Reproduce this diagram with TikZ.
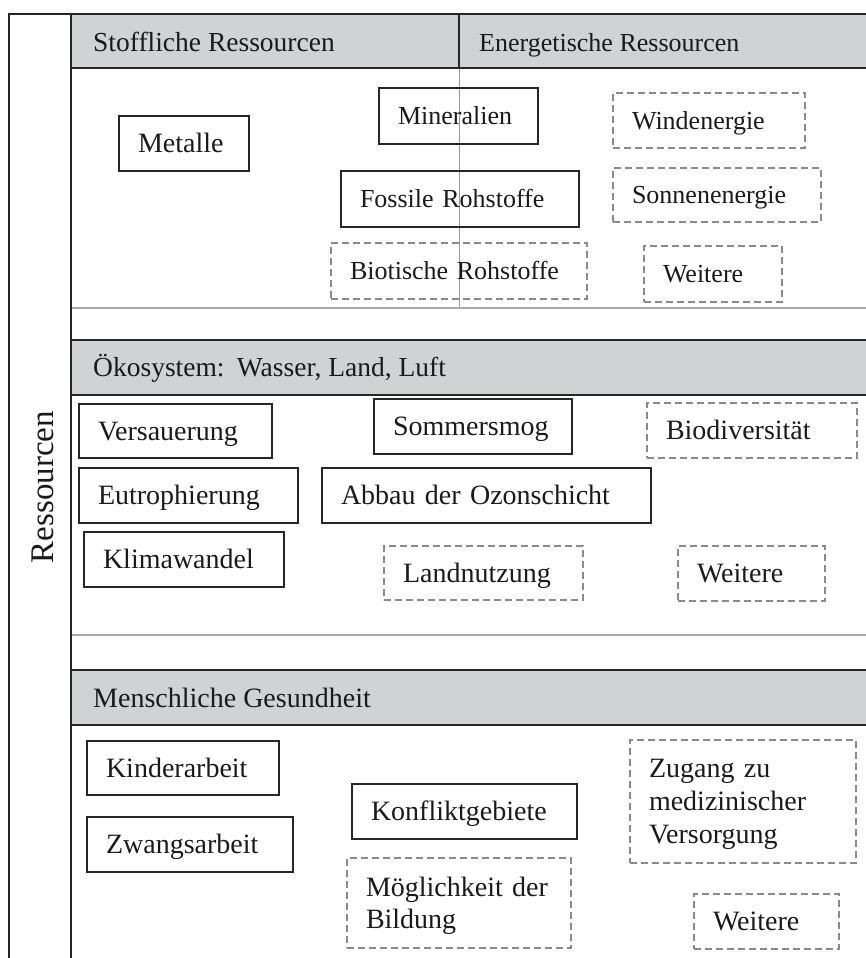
\documentclass[tikz,border=0pt]{standalone}
\usepackage{fontspec}
\setmainfont{Liberation Serif}
\definecolor{inkc}{HTML}{1A1A1A}
\definecolor{rulec}{HTML}{262626}
\definecolor{hdrfill}{HTML}{D0D2D4}
\definecolor{sepc}{HTML}{A8A8A8}
\definecolor{dashc}{HTML}{8A8A8A}
\definecolor{midc}{HTML}{9A9A9A}
\begin{document}
\hyphenpenalty=10000
\exhyphenpenalty=10000
\begin{tikzpicture}[x=1pt,y=-1pt,
  bigtxt/.style={font=\fontsize{28}{33}\selectfont, text height=25.2pt, text depth=6.7pt},
  smalltxt/.style={font=\fontsize{26}{31}\selectfont, text height=23.4pt, text depth=6.24pt},
  boxtext/.style={rectangle, text=inkc, inner xsep=19pt, inner ysep=0pt, align=left},
  solidbox/.style={boxtext, draw=rulec, line width=1.5pt},
  dashbox/.style={boxtext, draw=dashc, line width=1.2pt, dash pattern=on 7pt off 4pt},
  frameline/.style={draw=rulec, line width=1.7pt},
  sepline/.style={draw=sepc, line width=1.4pt},
  headfill/.style={fill=hdrfill},
  headtext/.style={text=inkc, inner sep=0pt, anchor=base west},
]
\useasboundingbox (0,0) rectangle (866,958);

% header bands
\fill[headfill] (71,14) rectangle (866,68);
\fill[headfill] (71,340) rectangle (866,395);
\fill[headfill] (71,670) rectangle (866,725);

% thin separators
\draw[draw=midc, line width=1pt] (459,68) -- (459,308);
\draw[sepline] (71,308) -- (866,308);
\draw[sepline] (71,635) -- (866,635);

% frame and header rules
\draw[frameline] (9,958) -- (9,14) -- (866,14);
\draw[frameline] (71,14) -- (71,958);
\draw[frameline] (71,68) -- (866,68);
\draw[frameline] (459,14) -- (459,68);
\draw[frameline] (71,340) -- (866,340);
\draw[frameline] (71,395) -- (866,395);
\draw[frameline] (71,670) -- (866,670);
\draw[frameline] (71,725) -- (866,725);

% side label
\node[text=inkc, font=\fontsize{33}{40}\selectfont, rotate=90, anchor=base, inner sep=0pt] (ress) at (53,487) {Ressourcen};

% header texts
\node[headtext, font=\fontsize{27.5}{33}\selectfont] (hstoff) at (93,51.5) {Stoffliche Ressourcen};
\node[headtext, font=\fontsize{26}{31}\selectfont] (henergie) at (479,51.5) {Energetische Ressourcen};
\node[headtext, font=\fontsize{27.5}{33}\selectfont] (hoeko) at (93,376.5) {Ökosystem:\hspace{0.45em}Wasser, Land, Luft};
\node[headtext, font=\fontsize{28}{33}\selectfont] (hmensch) at (93,707) {Menschliche Gesundheit};

% resources
\node[solidbox, bigtxt, text width=92pt, minimum height=55pt] (metalle) at (184,143.5) {Metalle};
\node[solidbox, smalltxt, text width=121pt, minimum height=56pt] (mineralien) at (458.5,116) {Mineralien};
\node[solidbox, smalltxt, text width=200pt, minimum height=56pt] (fossil) at (460,199) {Fossile Rohstoffe};
\node[dashbox, smalltxt, text width=218pt, minimum height=56pt] (biotisch) at (459,271) {Biotische Rohstoffe};
\node[dashbox, smalltxt, text width=154pt, minimum height=55pt] (wind) at (709,120.5) {Windenergie};
\node[dashbox, smalltxt, text width=170pt, minimum height=54pt] (sonne) at (717,195) {Sonnenenergie};
\node[dashbox, smalltxt, text width=100pt, minimum height=56pt] (weiterA) at (713,274) {Weitere};

% ecosystem
\node[solidbox, bigtxt, text width=155pt, minimum height=54pt] (versauer) at (175.5,431) {Versauerung};
\node[solidbox, bigtxt, text width=160pt, minimum height=55pt] (smog) at (473,426.5) {Sommersmog};
\node[dashbox, bigtxt, text width=172pt, minimum height=55pt] (biodiv) at (752,430.5) {Biodiversität};
\node[solidbox, bigtxt, text width=181pt, minimum height=55pt] (eutroph) at (188.5,495.5) {Eutrophierung};
\node[solidbox, bigtxt, text width=291pt, minimum height=55pt] (ozon) at (486.5,495.5) {Abbau der Ozonschicht};
\node[solidbox, bigtxt, text width=162pt, minimum height=55pt] (klima) at (184,559.5) {Klimawandel};
\node[dashbox, bigtxt, text width=161pt, minimum height=54pt] (land) at (483.5,573) {Landnutzung};
\node[dashbox, bigtxt, text width=109pt, minimum height=55pt] (weiterB) at (751.5,573.5) {Weitere};

% human health
\node[solidbox, bigtxt, text width=154pt, minimum height=54pt] (kinder) at (183,768) {Kinderarbeit};
\node[solidbox, bigtxt, text width=168pt, minimum height=55pt] (zwang) at (190,844.5) {Zwangsarbeit};
\node[solidbox, bigtxt, text width=187pt, minimum height=55pt] (konflikt) at (464.5,811.5) {Konfliktgebiete};
\node[dashbox, font=\fontsize{28}{32.5}\selectfont, text height=25.2pt, text depth=39.2pt, text width=186pt, minimum height=90pt] (bildung) at (459,903) {Möglichkeit der\\Bildung};
\node[dashbox, font=\fontsize{28}{33}\selectfont, text height=25.2pt, text depth=72.7pt, text width=188pt, minimum height=123pt] (zugang) at (743,801.5) {Zugang zu\\medizinischer\\Versorgung};
\node[dashbox, bigtxt, text width=107pt, minimum height=55pt] (weiterC) at (766.5,921.5) {Weitere};
\end{tikzpicture}
\end{document}
